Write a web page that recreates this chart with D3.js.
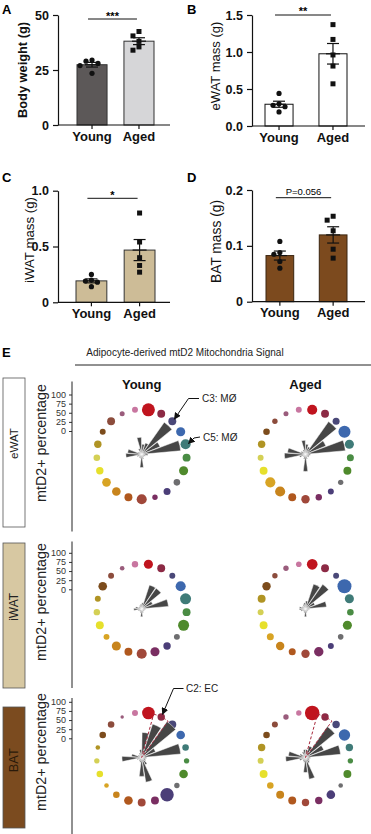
<!DOCTYPE html>
<html><head><meta charset="utf-8">
<script src="https://cdn.jsdelivr.net/npm/d3@7"></script>
<style>body{margin:0;background:#fff}svg{display:block}text{font-family:"Liberation Sans",Arial,sans-serif}</style>
</head><body><svg id="c" width="371" height="834"></svg>
<script>
// ---------------- DATA ----------------
const groups = ["Young", "Aged"];
const bodyWeightYoung = [29.5, 29.0, 28.0, 27.0, 23.5];
const bodyWeightAged  = [42.5, 40.5, 38.0, 35.5, 34.0];
const eWATMassYoung   = [0.44, 0.30, 0.28, 0.26, 0.19];
const eWATMassAged    = [1.37, 1.17, 0.96, 0.81, 0.57];
const iWATMassYoung   = [0.25, 0.20, 0.19, 0.18, 0.14];
const iWATMassAged    = [0.80, 0.54, 0.40, 0.33, 0.27];
const BATMassYoung    = [0.108, 0.088, 0.085, 0.072, 0.060];
const BATMassAged     = [0.153, 0.146, 0.127, 0.094, 0.078];
const ticksA = [0, 25, 50];
const ticksB = [0, 0.5, 1.0, 1.5];
const ticksC = [0, 0.5, 1.0];
const ticksD = [0, 0.1, 0.2];
const sigA = "***", sigB = "**", sigC = "*", sigD = "P=0.056";

const clusters = ["C1","C2","C3","C4","C5","C6","C7","C8","C9","C10","C11","C12","C13","C14","C15","C16","C17","C18","C19","C20","C21"];
const clusterColors = ["#c0141e","#8c2a45","#4a4878","#3d68ae","#3f7b78","#4a8c44","#4f8a2c","#6e6e70","#4b3e78","#7a2e62",
  "#a0483a","#b0581e","#c8841c","#d8a424","#e6e02c","#d4d055","#b09424","#7c4c1c","#8c4c3c","#9a5c7c","#c876a0"];
const pctTicks = [0, 25, 50, 75, 100];
const tissues = ["eWAT", "iWAT", "BAT"];
// mtD2+ percentage per cluster (rose wedges)
const pctYoungEWAT = [23, 27, 89, 45, 89, 14, 9, 7, 7, 11, 30, 9, 9, 7, 11, 36, 32, 9, 7, 14, 39];
const pctAgedEWAT  = [23, 18, 91, 50, 91, 11, 9, 9, 7, 11, 39, 11, 7, 7, 14, 48, 41, 11, 7, 11, 32];
const pctYoungIWAT = [14, 57, 57, 27, 61, 9, 7, 7, 7, 9, 18, 9, 7, 7, 9, 18, 14, 7, 7, 9, 11];
const pctAgedIWAT  = [18, 59, 68, 23, 48, 9, 7, 7, 7, 9, 18, 9, 7, 7, 11, 14, 14, 9, 7, 11, 14];
const pctYoungBAT  = [57, 80, 100, 34, 89, 11, 9, 11, 18, 57, 43, 11, 9, 7, 11, 45, 23, 9, 7, 11, 18];
const pctAgedBAT   = [18, 27, 86, 45, 80, 11, 9, 11, 14, 50, 34, 11, 9, 7, 14, 45, 39, 14, 7, 14, 18];
// relative cluster size (dots)
const sizeYoungEWAT = [43, 16, 16, 21, 26, 16, 21, 11, 12.5, 7.4, 26, 16, 19, 19, 14, 11, 14, 9, 16, 6.4, 9];
const sizeAgedEWAT  = [26, 16, 12.5, 37, 21, 12.5, 16, 7.4, 9, 10.4, 18, 16, 26, 26, 16, 9, 14, 11, 7.4, 6.4, 9];
const sizeYoungIWAT = [21, 16, 9, 26, 31, 16, 31, 9, 14, 21, 26, 16, 21, 9, 16, 10.4, 9, 19, 9, 5.4, 10.4];
const sizeAgedIWAT  = [29, 16, 9, 50, 21, 11, 21, 8, 9, 22.5, 18, 12.5, 18, 12.5, 16, 9, 16, 18, 7.4, 7.4, 8];
const sizeYoungBAT  = [40.5, 14, 16, 19, 11, 7.4, 19, 7.4, 46, 16, 16, 19, 11, 5.4, 11, 7.4, 5.4, 11, 11, 3, 9.2];
const sizeAgedBAT   = [54, 14, 14, 33, 14, 7.4, 16, 5.4, 19, 14, 14, 16, 16, 11, 16, 9.2, 14, 11, 9.2, 7.4, 7.4];
const highlightBAT = "C2";

// ---------------- DRAW ----------------
const FONT = '"Liberation Sans",Arial,sans-serif';
const svg = d3.select("#c");
svg.append("rect").attr("width", 371).attr("height", 834).attr("fill", "#fff");

function fit(sel, target) {
  const fs = parseFloat(sel.attr("font-size"));
  const len = sel.node().getComputedTextLength();
  if (len > 0) sel.attr("font-size", (fs * target / len).toFixed(2));
  return sel;
}

function beeswarm(vals, y, cx) {
  const placed = [];
  const cands = [0, -6, 6, -12, 12];
  return vals.map(v => {
    const py = y(v);
    let px = cx;
    for (const c of cands) {
      if (placed.every(p => Math.hypot(p[0] - (cx + c), p[1] - py) >= 5.5)) { px = cx + c; break; }
    }
    placed.push([px, py]);
    return [px, py];
  });
}

function barPanel(o) {
  const g = svg.append("g");
  const y = d3.scaleLinear().domain([0, o.max]).range([o.yBottom, o.yTop]);
  const x = d3.scaleBand().domain(groups).range([o.bx0, o.bx1]).paddingInner(o.pad);
  const data = [o.young, o.aged];
  g.append("text").attr("x", o.letterX).attr("y", o.letterY).attr("font-size", 13).attr("font-weight", "bold").text(o.letter);
  groups.forEach((grp, i) => {
    const vals = data[i];
    const m = d3.mean(vals), se = d3.deviation(vals) / Math.sqrt(vals.length);
    g.append("rect").attr("x", x(grp)).attr("y", y(m)).attr("width", x.bandwidth()).attr("height", y(0) - y(m))
      .attr("fill", o.fills[i]).attr("stroke", o.stroke).attr("stroke-width", 1);
    const cx = x(grp) + x.bandwidth() / 2;
    const pts = beeswarm(vals, y, cx);
    pts.forEach(p => {
      if (i === 0) g.append("circle").attr("cx", p[0]).attr("cy", p[1]).attr("r", 2.6).attr("fill", "#111");
      else g.append("rect").attr("x", p[0] - 2.5).attr("y", p[1] - 2.5).attr("width", 5).attr("height", 5).attr("fill", "#111");
    });
    const eb = g.append("g").attr("stroke", "#111").attr("stroke-width", 1.2);
    eb.append("line").attr("x1", cx).attr("x2", cx).attr("y1", y(m - se)).attr("y2", y(m + se));
    eb.append("line").attr("x1", cx - 6).attr("x2", cx + 6).attr("y1", y(m - se)).attr("y2", y(m - se));
    eb.append("line").attr("x1", cx - 6).attr("x2", cx + 6).attr("y1", y(m + se)).attr("y2", y(m + se));
    eb.append("line").attr("x1", cx - 7).attr("x2", cx + 7).attr("y1", y(m)).attr("y2", y(m));
  });
  const ya = g.append("g").attr("transform", `translate(${o.ax},0)`)
    .call(d3.axisLeft(y).tickValues(o.ticks).tickFormat(o.fmt).tickSize(5).tickSizeOuter(0));
  ya.select(".domain").attr("stroke", "#111").attr("stroke-width", 1.2);
  ya.selectAll(".tick line").attr("stroke", "#111").attr("stroke-width", 1.2);
  ya.selectAll("text").attr("font-size", 12.5).attr("font-weight", "bold").attr("fill", "#111")
    .attr("font-family", FONT).attr("dx", -1);
  const xa = g.append("g").attr("transform", `translate(0,${o.yBottom})`);
  xa.append("line").attr("x1", o.ax).attr("x2", o.axEnd).attr("stroke", "#111").attr("stroke-width", 1.2);
  groups.forEach(grp => {
    const cx = x(grp) + x.bandwidth() / 2;
    xa.append("line").attr("x1", cx).attr("x2", cx).attr("y1", 0).attr("y2", 4).attr("stroke", "#111").attr("stroke-width", 1.2);
    xa.append("text").attr("x", cx).attr("y", 15.5).attr("text-anchor", "middle").attr("font-size", 13)
      .attr("font-weight", "bold").attr("fill", "#111").text(grp);
  });
  const lab = g.append("text").attr("transform", `translate(${o.labelX},${o.labelY}) rotate(-90)`)
    .attr("text-anchor", "middle").attr("font-size", 12.5).attr("font-weight", o.labelBold ? "bold" : "normal")
    .attr("fill", "#111").text(o.label);
  fit(lab, o.labelLen);
  const c0 = x(groups[0]) + x.bandwidth() / 2, c1 = x(groups[1]) + x.bandwidth() / 2;
  g.append("line").attr("x1", c0 - 4).attr("x2", c1 - 2).attr("y1", o.sigY).attr("y2", o.sigY).attr("stroke", "#111").attr("stroke-width", 1);
  g.append("text").attr("x", (c0 + c1) / 2 - 3).attr("y", o.sigTextY).attr("text-anchor", "middle")
    .attr("font-size", o.sigSize).attr("font-weight", o.sigBold ? "bold" : "normal").attr("fill", "#000").text(o.sig);
}

barPanel({letter: "A", letterX: 2, letterY: 14, young: bodyWeightYoung, aged: bodyWeightAged, max: 50, ticks: ticksA, fmt: d3.format("d"),
  yTop: 15, yBottom: 125, ax: 58, axEnd: 170, bx0: 77, bx1: 154, pad: 0.36, fills: ["#5c5858", "#d6d6d8"], stroke: "#333",
  label: "Body weight (g)", labelBold: true, labelX: 27, labelY: 70, labelLen: 96, sigY: 19, sigTextY: 19.5, sig: sigA, sigSize: 11, sigBold: true});
barPanel({letter: "B", letterX: 187, letterY: 14, young: eWATMassYoung, aged: eWATMassAged, max: 1.5, ticks: ticksB, fmt: d3.format(".1f"),
  yTop: 15, yBottom: 126, ax: 252, axEnd: 365, bx0: 265, bx1: 347, pad: 0.48, fills: ["#fff", "#fff"], stroke: "#111",
  label: "eWAT mass (g)", labelBold: false, labelX: 220, labelY: 66, labelLen: 89, sigY: 15, sigTextY: 15, sig: sigB, sigSize: 11, sigBold: true});
barPanel({letter: "C", letterX: 2, letterY: 182, young: iWATMassYoung, aged: iWATMassAged, max: 1.0, ticks: ticksC, fmt: d => d === 0 ? "0" : d3.format(".1f")(d),
  yTop: 190.7, yBottom: 302.3, ax: 58, axEnd: 170, bx0: 76, bx1: 155, pad: 0.36, fills: ["#cdbc97", "#cdbc97"], stroke: "#333",
  label: "iWAT mass (g)", labelBold: false, labelX: 34, labelY: 240, labelLen: 86, sigY: 198.3, sigTextY: 198.5, sig: sigC, sigSize: 11, sigBold: true});
barPanel({letter: "D", letterX: 187, letterY: 182, young: BATMassYoung, aged: BATMassAged, max: 0.2, ticks: ticksD, fmt: d => d === 0 ? "0" : d3.format(".1f")(d),
  yTop: 190, yBottom: 301.7, ax: 252, axEnd: 365, bx0: 266, bx1: 347, pad: 0.48, fills: ["#7c4a1e", "#7c4a1e"], stroke: "#3a2510",
  label: "BAT mass (g)", labelBold: false, labelX: 221, labelY: 241.5, labelLen: 83, sigY: 197.7, sigTextY: 195, sig: sigD, sigSize: 9.5, sigBold: false});

// ---------------- PANEL E ----------------
svg.append("text").attr("x", 2).attr("y", 357).attr("font-size", 13).attr("font-weight", "bold").text("E");
fit(svg.append("text").attr("x", 185).attr("y", 356).attr("text-anchor", "middle").attr("font-size", 10.2).attr("fill", "#222")
  .text("Adipocyte-derived mtD2 Mitochondria Signal"), 197);
svg.append("line").attr("x1", 75).attr("x2", 371).attr("y1", 365).attr("y2", 365).attr("stroke", "#222").attr("stroke-width", 1);

const defs = svg.append("defs");
defs.append("marker").attr("id", "ah").attr("viewBox", "0 0 10 10").attr("refX", 9).attr("refY", 5)
  .attr("markerWidth", 7).attr("markerHeight", 7).attr("orient", "auto-start-reverse").attr("markerUnits", "userSpaceOnUse")
  .append("path").attr("d", "M0,0 L10,5 L0,10 z").attr("fill", "#111");

const rows = [
  {tissue: tissues[0], cy: 454.3, zeroY: 431, lineTop: 381.5, lineBot: 531.5, box: [378, 149], boxFill: "#fff", textFill: "#222", labY: 443, tLen: 31,
   young: [pctYoungEWAT, sizeYoungEWAT], aged: [pctAgedEWAT, sizeAgedEWAT]},
  {tissue: tissues[1], cy: 608.8, zeroY: 589.3, lineTop: 541.5, lineBot: 688, box: [543, 145], boxFill: "#d7c8a2", textFill: "#222", labY: 602, tLen: 28,
   young: [pctYoungIWAT, sizeYoungIWAT], aged: [pctAgedIWAT, sizeAgedIWAT]},
  {tissue: tissues[2], cy: 757.5, zeroY: 738.3, lineTop: 698, lineBot: 834, box: [707, 121], boxFill: "#7b4b1f", textFill: "#2a1a0a", labY: 752, tLen: 24,
   young: [pctYoungBAT, sizeYoungBAT], aged: [pctAgedBAT, sizeAgedBAT]},
];
const colX = {Young: 141.7, Aged: 305.5};
const ringR = 45;
const rScale = d3.scaleLinear().domain([0, 100]).range([0, 44]);
const sizeScale = d3.scaleSqrt().domain([0, 50]).range([0, 7]);
const step = 2 * Math.PI / clusters.length;
const ang = i => (i + 0.5) * step;
const arc = d3.arc().innerRadius(0);

rows.forEach((row, ri) => {
  const g = svg.append("g");
  g.append("rect").attr("x", 3).attr("y", row.box[0]).attr("width", 22).attr("height", row.box[1])
    .attr("fill", row.boxFill).attr("stroke", "#555").attr("stroke-width", 0.8);
  fit(g.append("text").attr("transform", `translate(18.3,${row.box[0] + row.box[1] * 0.44}) rotate(-90)`)
    .attr("text-anchor", "middle").attr("font-size", 10).attr("fill", row.textFill).text(row.tissue), row.tLen);
  fit(g.append("text").attr("transform", `translate(46,${row.labY}) rotate(-90)`)
    .attr("text-anchor", "middle").attr("font-size", 11.5).attr("fill", "#222").text("mtD2+ percentage"), 118);
  const ay = d3.scaleLinear().domain([0, 100]).range([row.zeroY, row.zeroY - 36.5]);
  const axg = g.append("g").attr("transform", "translate(72,0)")
    .call(d3.axisLeft(ay).tickValues(pctTicks).tickSize(3));
  axg.select(".domain").remove();
  axg.selectAll(".tick line").attr("stroke", "#333");
  axg.selectAll("text").attr("font-size", 9).attr("fill", "#333").attr("font-family", FONT);
  g.append("line").attr("x1", 72).attr("x2", 72).attr("y1", row.lineTop).attr("y2", row.lineBot).attr("stroke", "#222").attr("stroke-width", 1);

  groups.forEach(grp => {
    const [pct, size] = row[grp === "Young" ? "young" : "aged"];
    const cx = colX[grp], cy = row.cy;
    const pg = g.append("g").attr("transform", `translate(${cx},${cy})`);
    if (ri === 0) svg.append("text").attr("x", cx).attr("y", 388.5).attr("text-anchor", "middle")
      .attr("font-size", 13).attr("font-weight", "bold").attr("fill", "#111").text(grp);
    pg.selectAll("circle").data(clusters).join("circle")
      .attr("cx", (d, i) => ringR * Math.sin(ang(i)))
      .attr("cy", (d, i) => -ringR * Math.cos(ang(i)))
      .attr("r", (d, i) => sizeScale(size[i]))
      .attr("fill", (d, i) => clusterColors[i]);
    pg.selectAll("path.w").data(clusters).join("path").attr("class", "w")
      .attr("d", (d, i) => arc({outerRadius: rScale(pct[i]), startAngle: ang(i) - step * 0.45, endAngle: ang(i) + step * 0.45}))
      .attr("fill", "#464646").attr("stroke", "#fff").attr("stroke-width", 0.5);
    if (row.tissue === "BAT") {
      const hi = clusters.indexOf(highlightBAT);
      pg.append("path")
        .attr("d", arc({outerRadius: ringR, startAngle: ang(hi) - step * 0.6, endAngle: ang(hi) + step * 0.6}))
        .attr("fill", "none").attr("stroke", "#a8283c").attr("stroke-width", 1).attr("stroke-dasharray", "3,2");
    }
  });
});

function annotate(row, grp, cl, pts, label, tx, ty) {
  const i = clusters.indexOf(cl);
  const cx = colX[grp], cy = rows[row].cy;
  const tip = [cx + (ringR + 3) * Math.sin(ang(i)), cy - (ringR + 3) * Math.cos(ang(i))];
  svg.append("path").attr("d", d3.line()([...pts, tip])).attr("fill", "none").attr("stroke", "#111").attr("stroke-width", 1).attr("marker-end", "url(#ah)");
  svg.append("text").attr("x", tx).attr("y", ty).attr("font-size", 10).attr("fill", "#222").text(label);
}
annotate(0, "Young", "C3", [[199, 398.5], [188.5, 398.5]], "C3: MØ", 202, 402);
annotate(0, "Young", "C5", [[200, 437], [194, 438]], "C5: MØ", 203, 440.5);
annotate(2, "Young", "C2", [[183.5, 688.5], [173.5, 688.5]], "C2: EC", 186, 692);
</script></body></html>
